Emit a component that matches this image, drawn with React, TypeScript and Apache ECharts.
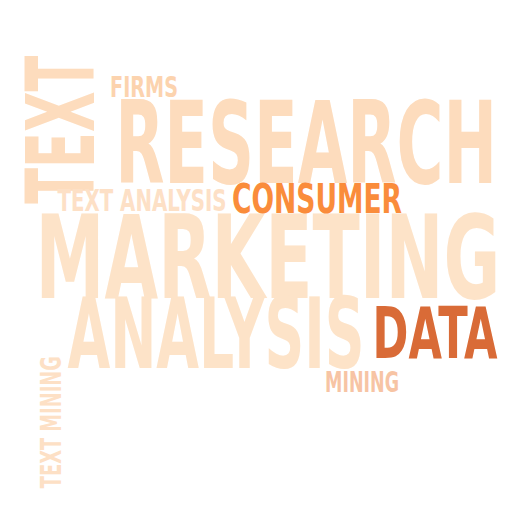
import { useEffect, useRef } from 'react'
import * as echarts from 'echarts'

// words and their weights
const words = ['RESEARCH', 'MARKETING', 'ANALYSIS', 'TEXT', 'DATA', 'CONSUMER', 'TEXT ANALYSIS', 'FIRMS', 'MINING', 'TEXT MINING']
const colors = ['#fddcbd', '#fde3c8', '#fde3c8', '#fddcbd', '#d96b37', '#fa8c3b', '#fde0c6', '#fcd3ae', '#f7c4a4', '#fde0c5']

// layout (pixel centre, cap height, text length, rotation in degrees)
const centerX = [306, 268, 216, 62, 435, 317, 142, 144, 362, 51]
const centerY = [139, 253, 330, 126, 331, 197, 199, 86, 382, 421]
const capHeight = [82, 83, 71, 68, 51, 30, 22, 21, 20, 21]
const textLength = [382, 465, 297, 148, 125, 170, 169, 68, 74, 132]
const rotations = [0, 0, 0, 90, 0, 0, 0, 0, 0, 90]

const FONT = '"Liberation Sans Narrow", "DejaVu Sans Condensed", sans-serif'

function measure(text: string, size: number) {
  const c = document.createElement('canvas').getContext('2d')!
  c.font = `bold ${size}px ${FONT}`
  return c.measureText(text).width
}

export default function App() {
  const ref = useRef<HTMLDivElement>(null)

  useEffect(() => {
    if (!ref.current) return
    document.body.style.margin = '0'
    const chart = echarts.init(ref.current, null, { renderer: 'svg' })

    const data = words.map((w, i) => [centerX[i], centerY[i], i])

    chart.setOption({
      animation: false,
      backgroundColor: '#ffffff',
      series: [
        {
          type: 'custom',
          coordinateSystem: 'none',
          data,
          renderItem: (params: any, api: any) => {
            const i = api.value(2)
            const size = capHeight[i] / 0.72
            const sx = textLength[i] / measure(words[i], size)
            return {
              type: 'text',
              x: api.value(0),
              y: api.value(1) + size * 0.04,
              rotation: (rotations[i] * Math.PI) / 180,
              scaleX: sx,
              style: {
                text: words[i],
                fontSize: size,
                fontFamily: FONT,
                fontWeight: 'bold',
                fill: colors[i],
                align: 'center',
                verticalAlign: 'middle'
              }
            }
          }
        }
      ]
    })

    return () => chart.dispose()
  }, [])

  return <div ref={ref} style={{ width: 512, height: 512 }} />
}
